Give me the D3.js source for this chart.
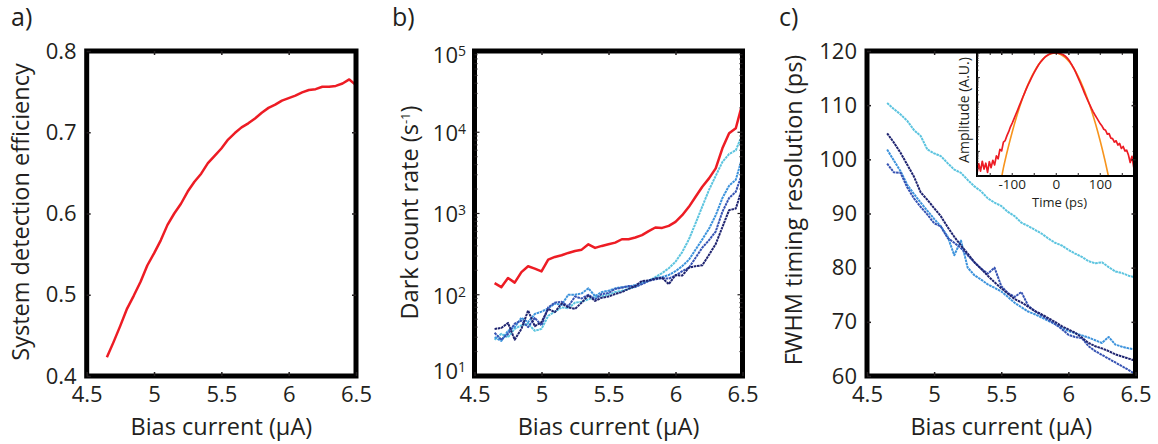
<!DOCTYPE html>
<html>
<head>
<meta charset="utf-8">
<script src="https://cdn.jsdelivr.net/npm/d3@7"></script>
<style>
  html, body { margin: 0; padding: 0; background: #fff; }
  svg { display: block; }
  text { font-family: 'Open Sans', sans-serif; fill: #231f20; }
</style>
</head>
<body>
<svg id="chart" width="1158" height="444"></svg>
<script>
// ---- data -------------------------------------------------------------
const biasCurrent = [4.65, 4.70, 4.75, 4.80, 4.85, 4.90, 4.95, 5.00, 5.05, 5.10,
  5.15, 5.20, 5.25, 5.30, 5.35, 5.40, 5.45, 5.50, 5.55, 5.60,
  5.65, 5.70, 5.75, 5.80, 5.85, 5.90, 5.95, 6.00, 6.05, 6.10,
  6.15, 6.20, 6.25, 6.30, 6.35, 6.40, 6.45, 6.50];

// a) system detection efficiency
const efficiency = [0.423, 0.442, 0.462, 0.483, 0.499, 0.516, 0.536, 0.551, 0.567, 0.586,
  0.600, 0.612, 0.627, 0.639, 0.649, 0.662, 0.671, 0.680, 0.691, 0.699,
  0.706, 0.711, 0.717, 0.724, 0.730, 0.734, 0.739, 0.742, 0.745, 0.749,
  0.752, 0.753, 0.756, 0.756, 0.757, 0.760, 0.765, 0.758];

// b) dark count rate (counts per second)
const darkRed = [139, 124, 161, 141, 190, 224, 210, 194, 270, 292,
  306, 327, 346, 359, 418, 377, 399, 418, 438, 482,
  482, 506, 541, 606, 672, 665, 705, 789, 953, 1208,
  1607, 2135, 2705, 3594, 6346, 9722, 11190, 22800];
const darkCyan = [28, 33, 30, 38, 42, 44, 36, 38, 55, 62,
  70, 68, 80, 82, 88, 94, 96, 100, 108, 112,
  118, 125, 138, 148, 165, 185, 212, 255, 335, 480,
  760, 1220, 1950, 2900, 4300, 5400, 6000, 9500];
const darkLightBlue = [30, 27, 36, 40, 52, 46, 58, 62, 68, 78,
  75, 100, 100, 104, 120, 96, 108, 112, 120, 124,
  126, 132, 140, 150, 160, 165, 175, 195, 225, 270,
  360, 480, 650, 950, 1550, 2200, 2600, 5000];
const darkBlue = [34, 28, 33, 44, 48, 40, 52, 42, 70, 80,
  82, 72, 95, 90, 100, 88, 102, 105, 118, 122,
  128, 125, 135, 148, 155, 160, 158, 172, 195, 215,
  285, 380, 470, 600, 1050, 1550, 1850, 3200];
const darkNavy = [38, 39, 45, 28, 38, 64, 41, 46, 67, 61,
  78, 70, 67, 80, 98, 84, 92, 95, 102, 108,
  118, 128, 148, 150, 158, 162, 135, 175, 172, 215,
  225, 230, 310, 420, 680, 1100, 1150, 2100];

// c) FWHM timing resolution (ps)
const fwhmCyan = [110.4, 109.3, 108.3, 107.1, 105.4, 104.3, 101.8, 101.1, 100.6, 99.3,
  98.1, 97.5, 96.2, 95.0, 94.1, 92.8, 92.0, 91.4, 90.3, 89.5,
  88.3, 87.7, 87.0, 86.3, 85.4, 84.6, 84.1, 83.3, 82.6, 82.0,
  81.2, 80.8, 81.0, 80.1, 79.3, 79.0, 78.5, 78.2];
const fwhmLightBlue = [101.8, 99.8, 97.8, 95.3, 93.6, 92.0, 90.5, 89.0, 87.6, 85.8,
  82.3, 85.0, 80.0, 78.6, 77.8, 76.9, 76.3, 75.6, 74.6, 73.5,
  72.7, 71.9, 71.4, 70.8, 70.2, 69.6, 68.9, 68.3, 67.9, 67.5,
  67.1, 66.6, 66.1, 67.2, 65.8, 65.4, 65.1, 64.9];
const fwhmBlue = [99.2, 97.6, 97.5, 94.8, 92.8, 91.2, 89.8, 88.2, 87.6, 85.5,
  84.6, 83.6, 82.3, 81.0, 79.8, 78.9, 80.0, 76.6, 75.3, 74.6,
  75.5, 73.0, 72.0, 71.2, 70.4, 69.6, 68.7, 67.6, 67.2, 67.0,
  65.5, 64.6, 63.9, 63.2, 62.5, 61.8, 61.1, 60.3];
const fwhmNavy = [104.8, 103.1, 101.2, 99.0, 96.8, 93.9, 92.5, 91.0, 89.5, 87.5,
  85.7, 84.1, 82.6, 81.0, 79.8, 78.5, 77.3, 76.2, 75.2, 74.2,
  73.6, 72.8, 72.0, 71.4, 70.7, 70.0, 69.2, 68.6, 68.0, 67.1,
  66.1, 65.5, 65.1, 64.6, 64.0, 63.6, 63.2, 62.8];

// inset: timing histogram (log10 of normalised amplitude) and Gaussian fit
const histTime = [-180, -176, -172, -168, -164, -160, -156, -152, -148, -144,
  -140, -136, -132, -128, -124, -120, -116, -112, -108, -104,
  -100, -96, -92, -88, -84, -80, -76, -72, -68, -64,
  -60, -56, -52, -48, -44, -40, -36, -32, -28, -24,
  -20, -16, -12, -8, -4, 0, 4, 8, 12, 16,
  20, 24, 28, 32, 36, 40, 44, 48, 52, 56,
  60, 64, 68, 72, 76, 80, 84, 88, 92, 96,
  100, 104, 108, 112, 116, 120, 124, 128, 132, 136,
  140, 144, 148, 152, 156, 160, 164, 168, 172, 176, 180];
const histLog10Amp = [-4.90, -4.50, -4.80, -4.40, -4.72, -4.48, -4.85, -4.42, -4.66, -4.36,
  -4.55, -4.18, -4.30, -3.92, -3.98, -3.62, -3.56, -3.36, -3.20, -3.00,
  -2.85, -2.68, -2.50, -2.33, -2.15, -1.98, -1.80, -1.63, -1.46, -1.30,
  -1.15, -1.00, -0.86, -0.73, -0.60, -0.48, -0.38, -0.29, -0.21, -0.14,
  -0.09, -0.05, -0.02, -0.01, 0.00, 0.00, -0.01, -0.02, -0.04, -0.07,
  -0.12, -0.19, -0.27, -0.38, -0.50, -0.63, -0.78, -0.94, -1.10, -1.27,
  -1.44, -1.62, -1.79, -1.95, -2.10, -2.25, -2.39, -2.52, -2.64, -2.76,
  -2.88, -2.97, -3.10, -3.14, -3.30, -3.28, -3.46, -3.48, -3.62, -3.57,
  -3.74, -3.68, -3.88, -3.80, -3.98, -3.95, -4.15, -4.45, -4.20, -4.65, -4.50];
const fitTime = [-124, -120, -110, -100, -90, -80, -70, -60, -50, -40, -30, -20, -10,
  0, 10, 20, 30, 40, 50, 60, 70, 80, 90, 100, 110, 120];
const fitLog10Amp = [-5.05, -4.67, -3.90, -3.21, -2.58, -2.02, -1.53, -1.11, -0.76, -0.47, -0.25, -0.10, -0.02,
  0.00, -0.06, -0.18, -0.37, -0.63, -0.96, -1.35, -1.81, -2.34, -2.93, -3.59, -4.32, -5.13];

// tick labels
const biasTicks = [4.5, 5, 5.5, 6, 6.5];
const effTicks = [0.4, 0.5, 0.6, 0.7, 0.8];
const dcrDecades = [1, 2, 3, 4, 5];
const fwhmTicks = [60, 70, 80, 90, 100, 110, 120];
const insetTimeLabels = [-100, 0, 100];
const insetTimeTicks = [-150, -100, -50, 0, 50, 100, 150];

// ---- styling ----------------------------------------------------------
const colors = {
  red: "#ed1c24",
  cyan: "#5cc4df",
  lightBlue: "#3d93dc",
  blue: "#3653b3",
  navy: "#1f2470",
  orange: "#f7941d",
  ink: "#231f20"
};
const plotY = [376, 51];
const svg = d3.select("#chart");

function styleTicks(sel, width) {
  sel.select(".domain").remove();
  sel.selectAll(".tick line").attr("stroke", colors.ink).attr("stroke-width", width);
}

function frame(g, x, y, w) {
  const [x0, x1] = x.range();
  const [y0, y1] = y.range();
  g.append("rect")
    .attr("x", x0).attr("y", y1)
    .attr("width", x1 - x0).attr("height", y0 - y1)
    .attr("fill", "none").attr("stroke", "#000").attr("stroke-width", w);
}

function xAxes(g, x, y) {
  const [y0, y1] = y.range();
  const bottom = g.append("g").attr("transform", `translate(0,${y0})`)
    .call(d3.axisBottom(x).tickValues(biasTicks).tickSizeInner(-4).tickSizeOuter(0)
      .tickPadding(10).tickFormat(d => String(d)));
  styleTicks(bottom, 1.5);
  bottom.selectAll("text").attr("font-size", 22).attr("fill", colors.ink);
  const top = g.append("g").attr("transform", `translate(0,${y1})`)
    .call(d3.axisTop(x).tickValues(biasTicks.slice(1, -1)).tickSizeInner(-4).tickSizeOuter(0).tickFormat(""));
  styleTicks(top, 1.5);
  const [x0, x1] = x.range();
  g.append("text")
    .attr("x", (x0 + x1) / 2).attr("y", 434.5)
    .attr("text-anchor", "middle").attr("font-size", 23.5)
    .text("Bias current (\u00b5A)");
}

function linearYAxes(g, x, y, ticks) {
  const [x0, x1] = x.range();
  const left = g.append("g").attr("transform", `translate(${x0},0)`)
    .call(d3.axisLeft(y).tickValues(ticks).tickSizeInner(-4).tickSizeOuter(0)
      .tickPadding(10).tickFormat(d => String(d)));
  styleTicks(left, 1.5);
  left.selectAll("text").attr("font-size", 22).attr("fill", colors.ink);
  const right = g.append("g").attr("transform", `translate(${x1},0)`)
    .call(d3.axisRight(y).tickValues(ticks.slice(1, -1)).tickSizeInner(-4).tickSizeOuter(0).tickFormat(""));
  styleTicks(right, 1.5);
}

function yTitle(g, text, xBase, yMid) {
  return g.append("text")
    .attr("transform", `translate(${xBase},${yMid}) rotate(-90)`)
    .attr("text-anchor", "middle").attr("font-size", 23.5)
    .text(text);
}

function panelLabel(text, xPos) {
  svg.append("text").attr("x", xPos).attr("y", 26)
    .attr("font-size", 25).text(text);
}

// ---- a) efficiency ----------------------------------------------------
{
  const x = d3.scaleLinear().domain([4.5, 6.5]).range([86.7, 356]);
  const y = d3.scaleLinear().domain([0.4, 0.8]).range(plotY);
  const g = svg.append("g");
  g.append("path")
    .attr("d", d3.line().x((d, i) => x(biasCurrent[i])).y(d => y(d))(efficiency))
    .attr("fill", "none").attr("stroke", colors.red).attr("stroke-width", 2.5)
    .attr("stroke-linejoin", "round");
  frame(g, x, y, 5);
  xAxes(g, x, y);
  linearYAxes(g, x, y, effTicks);
  yTitle(g, "System detection efficiency", 29.3, 212);
  panelLabel("a)", 11);
}

// ---- b) dark count rate ----------------------------------------------
{
  const x = d3.scaleLinear().domain([4.5, 6.5]).range([474.5, 742.5]);
  const y = d3.scaleLog().domain([1e1, 1e5]).range(plotY);
  const g = svg.append("g");
  const line = d3.line().x((d, i) => x(biasCurrent[i])).y(d => y(d));
  const blues = [
    [darkCyan, colors.cyan],
    [darkLightBlue, colors.lightBlue],
    [darkBlue, colors.blue],
    [darkNavy, colors.navy]
  ];
  blues.forEach(([vals, c]) => {
    g.append("path").attr("d", line(vals))
      .attr("fill", "none").attr("stroke", c).attr("stroke-width", 2)
      .attr("stroke-dasharray", "2.6,0.7").attr("stroke-linejoin", "round");
  });
  g.append("path").attr("d", line(darkRed))
    .attr("fill", "none").attr("stroke", colors.red).attr("stroke-width", 2.5)
    .attr("stroke-linejoin", "round");
  frame(g, x, y, 5);
  xAxes(g, x, y);

  // log ticks, major at decades, minor at 2..9 on both sides
  const [x0, x1] = x.range();
  y.ticks().forEach(v => {
    const isMajor = Math.abs(Math.log10(v) - Math.round(Math.log10(v))) < 1e-9;
    const len = isMajor ? 5 : 3;
    if (v <= 10 || v >= 1e5) return;
    g.append("line").attr("x1", x0).attr("x2", x0 + len).attr("y1", y(v)).attr("y2", y(v))
      .attr("stroke", colors.ink).attr("stroke-width", 1.2);
    g.append("line").attr("x1", x1).attr("x2", x1 - len).attr("y1", y(v)).attr("y2", y(v))
      .attr("stroke", colors.ink).attr("stroke-width", 1.2);
  });
  dcrDecades.forEach(p => {
    const yc = Math.max(55, Math.min(371, y(Math.pow(10, p)) + 1));
    const t = g.append("text").attr("x", x0 - 8.5).attr("y", yc)
      .attr("dy", "0.36em").attr("text-anchor", "end").attr("font-size", 22);
    t.append("tspan").text("10");
    t.append("tspan").attr("dy", "-0.5em").attr("font-size", 14).text(String(p));
  });
  const title = yTitle(g, "", 418.3, 212.5);
  title.append("tspan").text("Dark count rate (s");
  title.append("tspan").attr("dy", -8).attr("font-size", 13).text("-1");
  title.append("tspan").attr("dy", 8).text(")");
  panelLabel("b)", 392);
}

// ---- c) timing resolution --------------------------------------------
{
  const x = d3.scaleLinear().domain([4.5, 6.5]).range([867, 1135.5]);
  const y = d3.scaleLinear().domain([60, 120]).range(plotY);
  const g = svg.append("g");
  const line = d3.line().x((d, i) => x(biasCurrent[i])).y(d => y(d));
  [
    [fwhmCyan, colors.cyan],
    [fwhmLightBlue, colors.lightBlue],
    [fwhmBlue, colors.blue],
    [fwhmNavy, colors.navy]
  ].forEach(([vals, c]) => {
    g.append("path").attr("d", line(vals))
      .attr("fill", "none").attr("stroke", c).attr("stroke-width", 2)
      .attr("stroke-dasharray", "2.6,0.7").attr("stroke-linejoin", "round");
  });

  // inset: timing histogram on a log amplitude axis
  const ix = d3.scaleLinear().domain([-180, 180]).range([977, 1135.5]);
  const iy = d3.scaleLog().domain([1e-5, Math.pow(10, 0.04)]).range([176, 52]);
  const ig = g.append("g");
  ig.append("rect").attr("x", 977).attr("y", 52).attr("width", 1135.5 - 977).attr("height", 124)
    .attr("fill", "#fff");
  svg.append("defs").append("clipPath").attr("id", "inset-clip")
    .append("rect").attr("x", 977).attr("y", 52).attr("width", 1135.5 - 977).attr("height", 124);
  const lines = ig.append("g").attr("clip-path", "url(#inset-clip)");
  lines.append("path")
    .attr("d", d3.line().x((d, i) => ix(fitTime[i])).y(d => iy(Math.pow(10, d)))
      .curve(d3.curveCatmullRom)(fitLog10Amp))
    .attr("fill", "none").attr("stroke", colors.orange).attr("stroke-width", 1.6);
  lines.append("path")
    .attr("d", d3.line().x((d, i) => ix(histTime[i])).y(d => iy(Math.pow(10, d)))(histLog10Amp))
    .attr("fill", "none").attr("stroke", colors.red).attr("stroke-width", 1.7)
    .attr("stroke-linejoin", "round");
  ig.append("rect").attr("x", 977).attr("y", 52).attr("width", 1135.5 - 977).attr("height", 124)
    .attr("fill", "none").attr("stroke", "#000").attr("stroke-width", 2);
  insetTimeTicks.forEach(t => {
    [[176, -3], [52, 3]].forEach(([yy, d]) => {
      ig.append("line").attr("x1", ix(t)).attr("x2", ix(t)).attr("y1", yy).attr("y2", yy + d)
        .attr("stroke", colors.ink).attr("stroke-width", 1);
    });
  });
  iy.ticks().forEach(v => {
    const isMajor = Math.abs(Math.log10(v) - Math.round(Math.log10(v))) < 1e-9;
    const len = isMajor ? 3 : 1.6;
    [[977, 1], [1135.5, -1]].forEach(([xx, d]) => {
      ig.append("line").attr("x1", xx).attr("x2", xx + d * len).attr("y1", iy(v)).attr("y2", iy(v))
        .attr("stroke", colors.ink).attr("stroke-width", 0.9);
    });
  });
  insetTimeLabels.forEach(t => {
    ig.append("text").attr("x", ix(t)).attr("y", 188.5)
      .attr("text-anchor", "middle").attr("font-size", 13.5).text(String(t));
  });
  ig.append("text").attr("x", 1059.5).attr("y", 206.8)
    .attr("text-anchor", "middle").attr("font-size", 13).text("Time (ps)");
  ig.append("text").attr("transform", "translate(968.5,110) rotate(-90)")
    .attr("text-anchor", "middle").attr("font-size", 14).text("Amplitude (A.U.)");

  frame(g, x, y, 5);
  xAxes(g, x, y);
  linearYAxes(g, x, y, fwhmTicks);
  yTitle(g, "FWHM timing resolution (ps)", 801.7, 210);
  panelLabel("c)", 779);
}
</script>
</body>
</html>
